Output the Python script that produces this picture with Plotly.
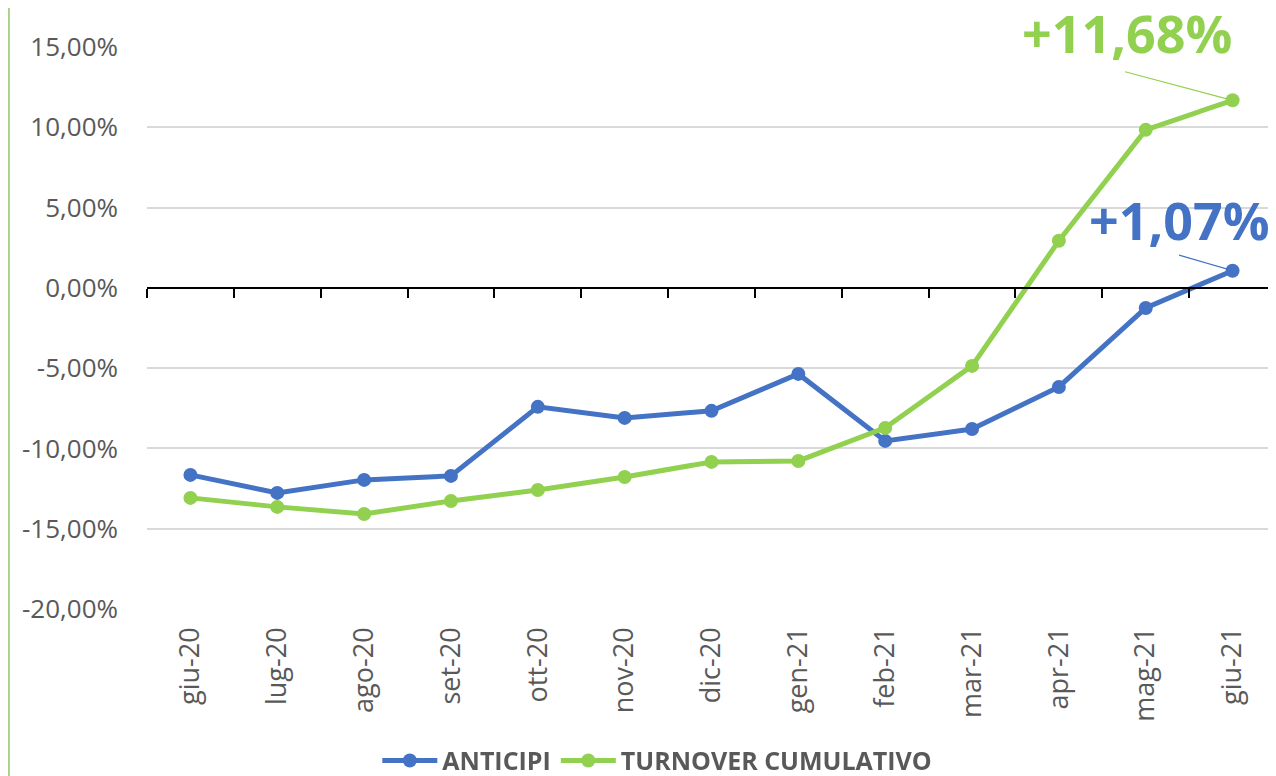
import plotly.graph_objects as go

months = ["giu-20", "lug-20", "ago-20", "set-20", "ott-20", "nov-20", "dic-20",
          "gen-21", "feb-21", "mar-21", "apr-21", "mag-21", "giu-21"]
anticipi = [-11.65, -12.77, -11.96, -11.71, -7.41, -8.10, -7.66,
            -5.36, -9.53, -8.79, -6.17, -1.25, 1.07]
turnover = [-13.08, -13.64, -14.08, -13.27, -12.59, -11.78, -10.84,
            -10.78, -8.72, -4.86, 2.93, 9.84, 11.68]
y_tickvals = [-20, -15, -10, -5, 0, 5, 10, 15]
y_ticktext = ["-20,00%", "-15,00%", "-10,00%", "-5,00%", "0,00%", "5,00%", "10,00%", "15,00%"]
label_anticipi = "+1,07%"
label_turnover = "+11,68%"

BLUE = "#4472C4"
GREEN = "#92D050"
GRAY = "#595959"
FONT = "Open Sans"

# page has an 8px body margin, so the figure is sized to fit the window
W, H = 1268, 768
ML, MT = 139, 39
PW, PH = 1129, 562
MR, MB = W - ML - PW, H - MT - PH
YMIN, YMAX = -20, 15

fig = go.Figure()
fig.add_trace(go.Scatter(x=months, y=anticipi, name="ANTICIPI", mode="lines+markers",
                         line=dict(color=BLUE, width=5), marker=dict(size=14, color=BLUE),
                         xaxis="x2", cliponaxis=False))
fig.add_trace(go.Scatter(x=months, y=turnover, name="TURNOVER CUMULATIVO", mode="lines+markers",
                         line=dict(color=GREEN, width=5), marker=dict(size=14, color=GREEN),
                         xaxis="x2", cliponaxis=False))
# invisible trace to give primary x axis its categories (labels)
fig.add_trace(go.Scatter(x=months, y=anticipi, mode="markers", opacity=0,
                         showlegend=False, hoverinfo="skip", xaxis="x"))

zero_pos = (0 - YMIN) / (YMAX - YMIN)

fig.update_layout(
    width=W, height=H,
    margin=dict(l=ML, r=MR, t=MT, b=MB, autoexpand=False),
    plot_bgcolor="white", paper_bgcolor="white",
    font=dict(family=FONT, color=GRAY, size=24),
    xaxis=dict(type="category", range=[-0.5, 12.5], showgrid=False, showline=False,
               ticks="", tickangle=-90, tickfont=dict(size=27, color=GRAY),
               ticklabelstandoff=12, zeroline=False, automargin=False),
    xaxis2=dict(type="category", range=[-0.5, 12.5], overlaying="x", anchor="free",
                position=zero_pos, side="bottom", showgrid=False, showline=True,
                linecolor="black", linewidth=2, ticks="outside", ticklen=9, tickwidth=2,
                tickcolor="black", tickson="boundaries", showticklabels=False, zeroline=False,
                automargin=False),
    yaxis=dict(range=[YMIN, YMAX], tickvals=y_tickvals, ticktext=y_ticktext,
               showgrid=True, gridcolor="#D9D9D9", gridwidth=1.5, zeroline=False,
               showline=False, ticks="", tickfont=dict(size=26, color=GRAY),
               ticklabelstandoff=28, automargin=False),
    legend=dict(orientation="h", x=0.452, xanchor="center", y=-0.27, yanchor="middle",
                font=dict(size=25, color=GRAY, family=FONT, weight="bold"),
                itemwidth=55, bgcolor="rgba(0,0,0,0)"),
    showlegend=True,
)

# left green border (at the figure's left edge)
fig.add_shape(type="line", xref="paper", yref="paper",
              x0=-ML / PW + 0.0008, x1=-ML / PW + 0.0008,
              y0=-MB / PH, y1=1 + MT / PH,
              line=dict(color="#A9D18E", width=2))

# labels + leader lines
last = months[-1]
fig.add_annotation(x=last, y=turnover[-1], xref="x2", yref="y", text=label_turnover,
                   showarrow=False, xshift=-106, yshift=68,
                   font=dict(size=52, color=GREEN, family=FONT, weight="bold"))
fig.add_annotation(x=last, y=turnover[-1], xref="x2", yref="y", text="",
                   showarrow=True, arrowhead=0, arrowwidth=1.2, arrowcolor=GREEN,
                   ax=-109, ay=-29, standoff=0)
fig.add_annotation(x=last, y=anticipi[-1], xref="x2", yref="y", text=label_anticipi,
                   showarrow=False, xshift=-53, yshift=51,
                   font=dict(size=52, color=BLUE, family=FONT, weight="bold"))
fig.add_annotation(x=last, y=anticipi[-1], xref="x2", yref="y", text="",
                   showarrow=True, arrowhead=0, arrowwidth=1.2, arrowcolor=BLUE,
                   ax=-55, ay=-16, standoff=0)

fig.write_html("out.html")
